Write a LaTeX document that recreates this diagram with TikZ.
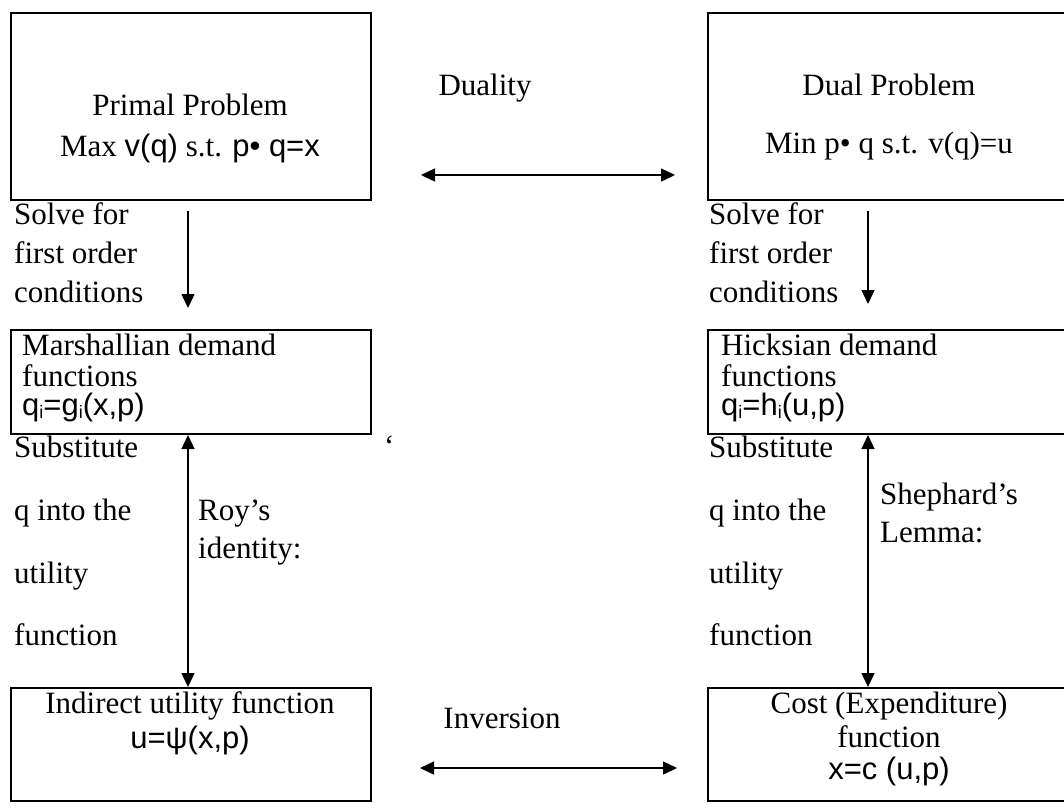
\documentclass[tikz,border=0pt]{standalone}
\usepackage{fontspec}
\setmainfont{Liberation Serif}
\newfontfamily\arial{Liberation Sans}
\usetikzlibrary{arrows.meta,calc}
\newcommand{\sub}[1]{\raisebox{-3pt}{\fontsize{18}{18}\selectfont #1}}
\begin{document}
\begin{tikzpicture}[x=1pt,y=-1pt,
  every node/.style={inner sep=0pt,font=\fontsize{31}{36}\selectfont},
  box/.style={draw,line width=2pt,anchor=north west,minimum width=#1},
  lbl/.style={anchor=base west},
  mid/.style={anchor=base},
  tip/.tip={Triangle[length=14pt,width=13pt]},
  oneway/.style={line width=1.4pt,-tip},
  twoway/.style={line width=1.4pt,tip-tip}]
\useasboundingbox (0,0) rectangle (1064,807);

% boxes (the right-hand column runs off the page edge)
\node[box=360pt,minimum height=187pt] (primal) at (10,12) {};
\node[box=364pt,minimum height=187pt] (dual)   at (707,12) {};
\node[box=360pt,minimum height=104pt] (marsh)  at (10,329) {};
\node[box=364pt,minimum height=104pt] (hicks)  at (707,329) {};
\node[box=360pt,minimum height=113pt] (indir)  at (10,687) {};
\node[box=364pt,minimum height=113pt] (cost)   at (707,687) {};

% box texts
\node[mid] (primal1) at (190,115) {Primal Problem};
\node[mid] (primal2) at (190,156) {Max {\arial v(q)} s.t. {\arial p• q=x}};
\node[mid] (dual1) at (889,95) {Dual Problem};
\node[mid] (dual2) at (889,153) {Min p• q s.t. v(q)=u};
\node[lbl] (marsh1) at (22,355) {Marshallian demand};
\node[lbl] (marsh2) at (22,386) {functions};
\node[lbl] (marsh3) at (22,415) {\arial q\sub{i}=g\sub{i}(x,p)};
\node[lbl] (hicks1) at (721,355) {Hicksian demand};
\node[lbl] (hicks2) at (721,386) {functions};
\node[lbl] (hicks3) at (721,415) {\arial q\sub{i}=h\sub{i}(u,p)};
\node[mid] (indir1) at (190,713) {Indirect utility function};
\node[mid] (indir2) at (190,748) {\arial u=ψ(x,p)};
\node[mid] (cost1) at (889,713) {Cost (Expenditure)};
\node[mid] (cost2) at (889,747) {function};
\node[mid] (cost3) at (889,779) {\arial x=c (u,p)};

% labels beside the connectors
\node[mid] (duality) at (485,95) {Duality};
\node[mid] (inversion) at (502,728) {Inversion};
\node[lbl] (solveL1) at (14,224) {Solve for};
\node[lbl] (solveL2) at (14,263) {first order};
\node[lbl] (solveL3) at (14,302) {conditions};
\node[lbl] (solveR1) at (709,224) {Solve for};
\node[lbl] (solveR2) at (709,263) {first order};
\node[lbl] (solveR3) at (709,302) {conditions};
\node[lbl] (subL1) at (14,457) {Substitute};
\node[lbl] (subL2) at (14,520) {q into the};
\node[lbl] (subL3) at (14,583) {utility};
\node[lbl] (subL4) at (14,645) {function};
\node[lbl] (subR1) at (709,457) {Substitute};
\node[lbl] (subR2) at (709,520) {q into the};
\node[lbl] (subR3) at (709,583) {utility};
\node[lbl] (subR4) at (709,645) {function};
\node[lbl] (roy1) at (198,520) {Roy's};
\node[lbl] (roy2) at (198,558) {identity:};
\node[lbl] (shep1) at (880,504) {Shephard's};
\node[lbl] (shep2) at (880,542) {Lemma:};
\node[lbl] (tick) at (384,456) {\symbol{96}};

% connectors
\draw[twoway] ($(primal.south east)+(49,-26)$) -- ($(dual.south west)+(-32,-26)$);
\draw[twoway] ($(indir.north east)+(48,81)$) -- ($(cost.north west)+(-30,81)$);
\draw[oneway] ($(primal.south west)+(178,10)$) -- ($(marsh.north west)+(178,-21)$);
\draw[oneway] ($(dual.south west)+(161,10)$) -- ($(hicks.north west)+(161,-25)$);
\draw[twoway] (marsh.south west -| 188,0) -- (indir.north west -| 188,0);
\draw[twoway] (hicks.south west -| 868,0) -- (cost.north west -| 868,0);
\end{tikzpicture}
\end{document}
